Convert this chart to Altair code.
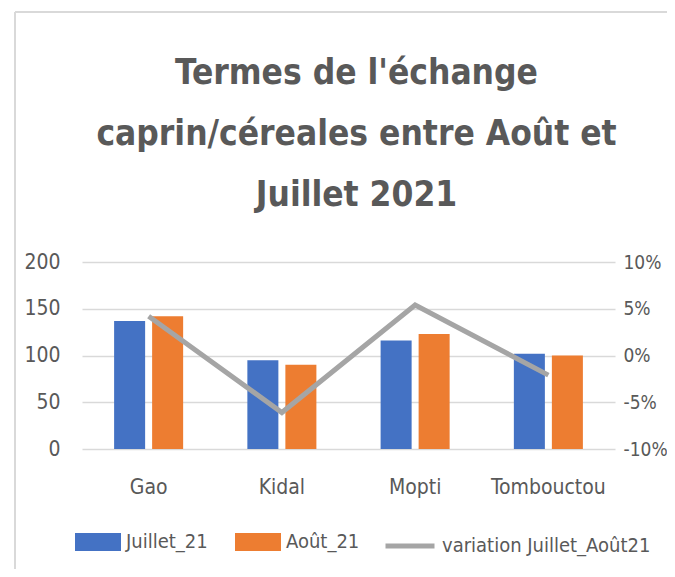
import altair as alt
import pandas as pd

regions = ["Gao", "Kidal", "Mopti", "Tombouctou"]
series = ["Juillet_21", "Août_21"]
juillet_21 = [137, 95, 116, 102]
aout_21 = [142, 90, 123, 100]
variation = [4.2, -6.1, 5.4, -2.1]
line_name = "variation Juillet_Août21"

left_ticks = [0, 50, 100, 150, 200]
right_ticks = [-10, -5, 0, 5, 10]

BLUE = "#4472C4"
ORANGE = "#ED7D31"
GRAY = "#A5A5A5"
TXT = "#595959"
GRID = "#D9D9D9"
FONT = "DejaVu Sans Condensed, sans-serif"
FS = 21
LFS = 20

rows = []
for i, r in enumerate(regions):
    rows.append({"region": r, "serie": series[0], "valeur": juillet_21[i]})
    rows.append({"region": r, "serie": series[1], "valeur": aout_21[i]})
df_bars = pd.DataFrame(rows)
df_line = pd.DataFrame({"region": regions, "variation": variation, "serie": [line_name] * 4})

x_enc = alt.X(
    "region:N",
    sort=regions,
    title=None,
    scale=alt.Scale(paddingInner=0.482, paddingOuter=0.241),
    axis=alt.Axis(labelAngle=0, ticks=False, domain=False, labelPadding=27,
                  labelFontSize=FS, labelColor=TXT, labelFont=FONT),
)

bars = alt.Chart(df_bars).mark_bar().encode(
    x=x_enc,
    xOffset=alt.XOffset("serie:N", sort=series,
                        scale=alt.Scale(paddingInner=0.184, paddingOuter=0)),
    y=alt.Y("valeur:Q", title=None,
            scale=alt.Scale(domain=[0, 200]),
            axis=alt.Axis(values=left_ticks, grid=True, gridColor=GRID, gridWidth=1.5,
                          ticks=False, domain=False, labelPadding=22,
                          labelFontSize=FS, labelColor=TXT, labelFont=FONT)),
    color=alt.Color("serie:N", sort=series,
                    scale=alt.Scale(domain=series, range=[BLUE, ORANGE]),
                    legend=alt.Legend(title=None, orient="none", direction="horizontal",
                                      legendX=-7, legendY=257,
                                      symbolType="M-1,-0.391H1V0.391H-1Z", symbolSize=2116,
                                      symbolStrokeWidth=0, labelOffset=5, columnPadding=27,
                                      labelLimit=300,
                                      labelFontSize=LFS, labelColor=TXT, labelFont=FONT)),
)

line = alt.Chart(df_line).mark_line(strokeWidth=5).encode(
    x=alt.X("region:N", sort=regions),
    y=alt.Y("variation:Q", title=None,
            scale=alt.Scale(domain=[-10, 10]),
            axis=alt.Axis(orient="right", values=right_ticks, grid=False, ticks=False,
                          domain=False, labelPadding=8,
                          labelExpr="(datum.value < 0 ? '-' : '') + abs(datum.value) + '%'",
                          labelFontSize=19, labelColor=TXT, labelFont=FONT)),
    stroke=alt.Stroke("serie:N", scale=alt.Scale(domain=[line_name], range=[GRAY]),
                      legend=alt.Legend(title=None, orient="none", legendX=301, legendY=257,
                                        symbolType="stroke", symbolSize=2401,
                                        symbolStrokeWidth=5, labelOffset=5, labelLimit=300,
                                        labelFontSize=LFS, labelColor=TXT, labelFont=FONT)),
)

border_left = alt.Chart(df_line).mark_rule(color=GRID, strokeWidth=1.5).encode(
    x=alt.value(-67), y=alt.value(-250), y2=alt.value(400))
border_top = alt.Chart(df_line).mark_rule(color=GRID, strokeWidth=1.5).encode(
    x=alt.value(-67), x2=alt.value(600), y=alt.value(-250))

chart = alt.layer(border_left, border_top, bars, line).resolve_scale(
    y="independent", color="independent", stroke="independent"
).properties(
    width=533,
    height=187,
    title=alt.Title(
        text=["Termes de l'échange", "caprin/céreales entre Août et", "Juillet 2021"],
        fontSize=35, font=FONT, fontWeight="bold", color=TXT, lineHeight=61,
        anchor="middle", frame="group", dx=8, offset=-230, baseline="alphabetic",
    ),
    autosize=alt.AutoSizeParams(type="none"),
    padding={"left": 74, "top": 254, "right": 52, "bottom": 120},
).configure_view(stroke=None)

chart.save("out.html", embed_options={"renderer": "svg", "actions": False})
